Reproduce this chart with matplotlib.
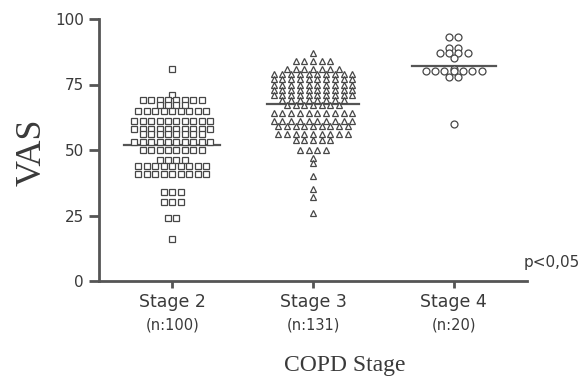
import matplotlib
matplotlib.use("Agg")
import matplotlib.pyplot as plt
import numpy as np

# ---- data ----
categories = ["Stage 2", "Stage 3", "Stage 4"]
n_labels = ["(n:100)", "(n:131)", "(n:20)"]

# value -> count of points at that value
stage2_values = [81, 71, 69, 67, 65, 61, 58, 56, 53, 50, 46, 44, 41, 34, 30, 24, 16]
stage2_counts = [1, 1, 8, 4, 9, 10, 10, 8, 10, 8, 4, 9, 9, 3, 3, 2, 1]

stage3_values = [87, 84, 81, 79, 77, 75, 73, 71, 69, 67, 64, 61, 59, 56, 54, 50, 47, 45, 40, 35, 32, 26]
stage3_counts = [1, 5, 7, 10, 10, 10, 10, 10, 8, 7, 10, 10, 9, 9, 5, 4, 1, 1, 1, 1, 1, 1]

stage4_values = [93, 89, 87, 85, 81, 80, 78, 60]
stage4_counts = [2, 2, 4, 1, 1, 7, 2, 1]

center_lines = [52, 67.5, 82]
p_text = "p<0,05"

# ---- figure ----
W, H, DPI = 583, 384, 100
fig = plt.figure(figsize=(W / DPI, H / DPI), dpi=DPI)
ax = fig.add_axes([99 / W, 1 - 281 / H, (527 - 99) / W, (281 - 19) / H])

grey = "#555555"
mark_col = "#474747"
txt_col = "#3a3a3a"

groups = [(stage2_values, stage2_counts, "s", 4.3, 0.060),
          (stage3_values, stage3_counts, "^", 5.0, 0.062),
          (stage4_values, stage4_counts, "o", 5.0, 0.066)]
half_w = [0.34, 0.33, 0.30]

for gi, (vals, cnts, mk, ms, sp) in enumerate(groups):
    xc = gi + 1
    xs, ys = [], []
    for v, c in zip(vals, cnts):
        for i in range(c):
            xs.append(xc + (i - (c - 1) / 2) * sp)
            ys.append(v)
    ax.plot(xs, ys, linestyle="none", marker=mk, markersize=ms,
            markerfacecolor="white", markeredgecolor=mark_col,
            markeredgewidth=0.9, zorder=3)
    ax.plot([xc - half_w[gi], xc + half_w[gi]], [center_lines[gi]] * 2,
            color=grey, lw=1.6, zorder=2)

ax.set_xlim(0.48, 3.52)
ax.set_ylim(0, 100)
for s in ["top", "right"]:
    ax.spines[s].set_visible(False)
for s in ["left", "bottom"]:
    ax.spines[s].set_color(grey)
    ax.spines[s].set_linewidth(2.0)

ax.set_yticks([0, 25, 50, 75, 100])
ax.set_xticks([1, 2, 3])
ax.set_xticklabels(categories, fontsize=12.5, color=txt_col, family="DejaVu Sans")
ax.tick_params(axis="y", length=7, width=2, color=grey, labelsize=11,
               labelcolor=txt_col, pad=4)
ax.tick_params(axis="x", length=5, width=2, color=grey, pad=3.5)

for i, lab in enumerate(n_labels):
    ax.text(i + 1, -0.168, lab, transform=ax.get_xaxis_transform(),
            ha="center", va="center", fontsize=10.5, color=txt_col)

fig.text(580 / W, 1 - 263 / H, p_text, ha="right", va="center",
         fontsize=11, color=txt_col)
fig.text(32 / W, 1 - 152 / H, "VAS", rotation=90, ha="center", va="center",
         fontsize=26, family="Liberation Serif", color=txt_col)
fig.text(345 / W, 1 - 366 / H, "COPD Stage", ha="center", va="center",
         fontsize=17, family="Liberation Serif", color=txt_col)

fig.savefig("out.png", dpi=DPI)
